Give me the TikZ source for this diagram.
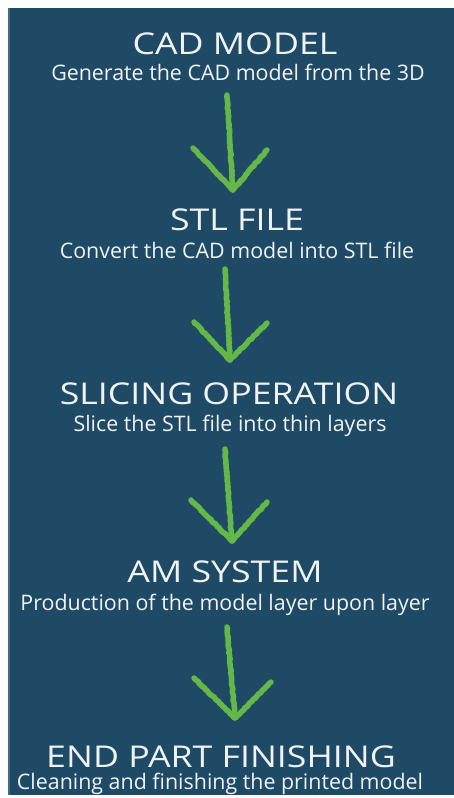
\documentclass[tikz,border=0pt]{standalone}
\usepackage{fontspec}
\setmainfont{Open Sans}
\newfontfamily\titlefont[FakeStretch=1.19]{Open Sans}
\usetikzlibrary{decorations.pathmorphing}
\definecolor{bgblue}{RGB}{31,74,102}
\definecolor{edgeblue}{RGB}{70,105,135}
\definecolor{chalkgreen}{RGB}{100,184,72}
\definecolor{txt}{RGB}{240,243,245}
\tikzset{
  title/.style={anchor=base, text=txt, inner sep=0pt, font=\titlefont\fontsize{30}{30}\selectfont},
  sub/.style={anchor=base, text=txt, inner sep=0pt, font=\fontsize{21.4}{21.4}\selectfont},
  chalk/.style={draw=chalkgreen, line width=5.5pt, line cap=round, line join=round,
    decorate, decoration={random steps, segment length=2pt, amplitude=0.5pt}},
}
\begin{document}
\begin{tikzpicture}[x=1pt,y=-1pt]
\useasboundingbox (0,0) rectangle (454,798);
\fill[white] (0,0) rectangle (454,798);
\fill[bgblue] (8,8) rectangle (454,795);
\fill[edgeblue] (8,8) rectangle (10,795);
% steps
\node[title] (t1) at (235,54) {CAD MODEL};
\node[sub]   (s1) at (238,80) {Generate the CAD model from the 3D};
\node[title] (t2) at (237,230) {STL FILE};
\node[sub]   (s2) at (237,258) {Convert the CAD model into STL file};
\node[title] (t3) at (229,404) {SLICING OPERATION};
\node[sub]   (s3) at (230,431) {Slice the STL file into thin layers};
\node[title] (t4) at (225,582) {AM SYSTEM};
\node[sub]   (s4) at (225,610) {Production of the model layer upon layer};
\node[title] (t5) at (221,767) {END PART FINISHING};
\node[sub]   (s5) at (220,789) {Cleaning and finishing the printed model};
% arrow coordinates
\coordinate (a1top) at (227,95);  \coordinate (a1tip) at (233,190);
\coordinate (a1l) at (193,148);   \coordinate (a1r) at (267,150);
\coordinate (a2top) at (225,269); \coordinate (a2tip) at (230,360);
\coordinate (a2l) at (194,322);   \coordinate (a2r) at (267,323);
\coordinate (a3top) at (225,449); \coordinate (a3tip) at (232,541);
\coordinate (a3l) at (191,500);   \coordinate (a3r) at (267,502);
\coordinate (a4top) at (227,627); \coordinate (a4tip) at (235,718);
\coordinate (a4l) at (194,678);   \coordinate (a4r) at (271,682);
\foreach \i in {1,2,3,4}{
  \draw[chalk] (a\i top) -- (a\i tip);
  \draw[chalk] (a\i l) -- (a\i tip) -- (a\i r);
}
\end{tikzpicture}
\end{document}
